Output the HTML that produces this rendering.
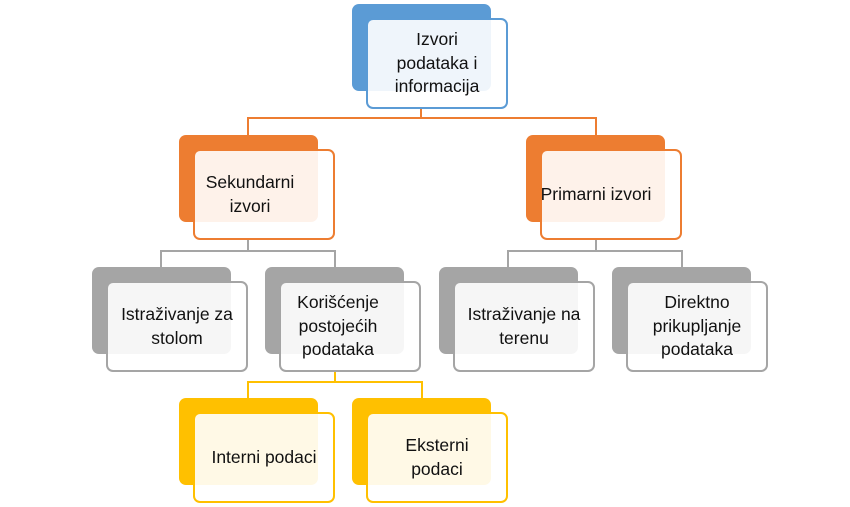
<!DOCTYPE html>
<html><head><meta charset="utf-8"><style>
body{margin:0;width:850px;height:507px;background:#fff;position:relative;overflow:hidden;font-family:"Liberation Sans",sans-serif}
.b{position:absolute;width:139px;height:87px;border-radius:7px}
.f{position:absolute;border-radius:7px;border:2px solid;background:rgba(255,255,255,0.9);display:flex;align-items:center;justify-content:center;text-align:center;font-size:17.5px;line-height:23.5px;color:#111;box-sizing:content-box;width:138px;height:87px;white-space:nowrap}
.l{position:absolute}
</style></head><body>
<div class="l" style="left:420px;top:107px;width:2px;height:12px;background:#ed7d31"></div>
<div class="l" style="left:247px;top:117px;width:350px;height:2px;background:#ed7d31"></div>
<div class="l" style="left:247px;top:117px;width:2px;height:18px;background:#ed7d31"></div>
<div class="l" style="left:595px;top:117px;width:2px;height:18px;background:#ed7d31"></div>

<div class="l" style="left:247px;top:239px;width:2px;height:13px;background:#a5a5a5"></div>
<div class="l" style="left:160px;top:250px;width:176px;height:2px;background:#a5a5a5"></div>
<div class="l" style="left:160px;top:250px;width:2px;height:17px;background:#a5a5a5"></div>
<div class="l" style="left:334px;top:250px;width:2px;height:17px;background:#a5a5a5"></div>
<div class="l" style="left:595px;top:239px;width:2px;height:13px;background:#a5a5a5"></div>
<div class="l" style="left:507px;top:250px;width:176px;height:2px;background:#a5a5a5"></div>
<div class="l" style="left:507px;top:250px;width:2px;height:17px;background:#a5a5a5"></div>
<div class="l" style="left:681px;top:250px;width:2px;height:17px;background:#a5a5a5"></div>

<div class="l" style="left:334px;top:371px;width:2px;height:12px;background:#ffc000"></div>
<div class="l" style="left:247px;top:381px;width:176px;height:2px;background:#ffc000"></div>
<div class="l" style="left:247px;top:381px;width:2px;height:17px;background:#ffc000"></div>
<div class="l" style="left:421px;top:381px;width:2px;height:17px;background:#ffc000"></div>

<div class="b" style="left:352px;top:4px;background:#5b9bd5"></div>
<div class="f" style="left:366px;top:18px;border-color:#5b9bd5">Izvori<br>podataka i<br>informacija</div>

<div class="b" style="left:179px;top:135px;background:#ed7d31"></div>
<div class="f" style="left:193px;top:149px;border-color:#ed7d31;padding-right:28px;width:110px">Sekundarni<br>izvori</div>
<div class="b" style="left:526px;top:135px;background:#ed7d31"></div>
<div class="f" style="left:540px;top:149px;border-color:#ed7d31;padding-right:30px;width:108px">Primarni izvori</div>

<div class="b" style="left:92px;top:267px;background:#a5a5a5"></div>
<div class="f" style="left:106px;top:281px;border-color:#a5a5a5">Istraživanje za<br>stolom</div>
<div class="b" style="left:265px;top:267px;background:#a5a5a5"></div>
<div class="f" style="left:279px;top:281px;border-color:#a5a5a5;padding-right:24px;width:114px">Korišćenje<br>postojećih<br>podataka</div>
<div class="b" style="left:439px;top:267px;background:#a5a5a5"></div>
<div class="f" style="left:453px;top:281px;border-color:#a5a5a5">Istraživanje na<br>terenu</div>
<div class="b" style="left:612px;top:267px;background:#a5a5a5"></div>
<div class="f" style="left:626px;top:281px;border-color:#a5a5a5">Direktno<br>prikupljanje<br>podataka</div>

<div class="b" style="left:179px;top:398px;background:#ffc000"></div>
<div class="f" style="left:193px;top:412px;border-color:#ffc000">Interni podaci</div>
<div class="b" style="left:352px;top:398px;background:#ffc000"></div>
<div class="f" style="left:366px;top:412px;border-color:#ffc000">Eksterni<br>podaci</div>
</body></html>
